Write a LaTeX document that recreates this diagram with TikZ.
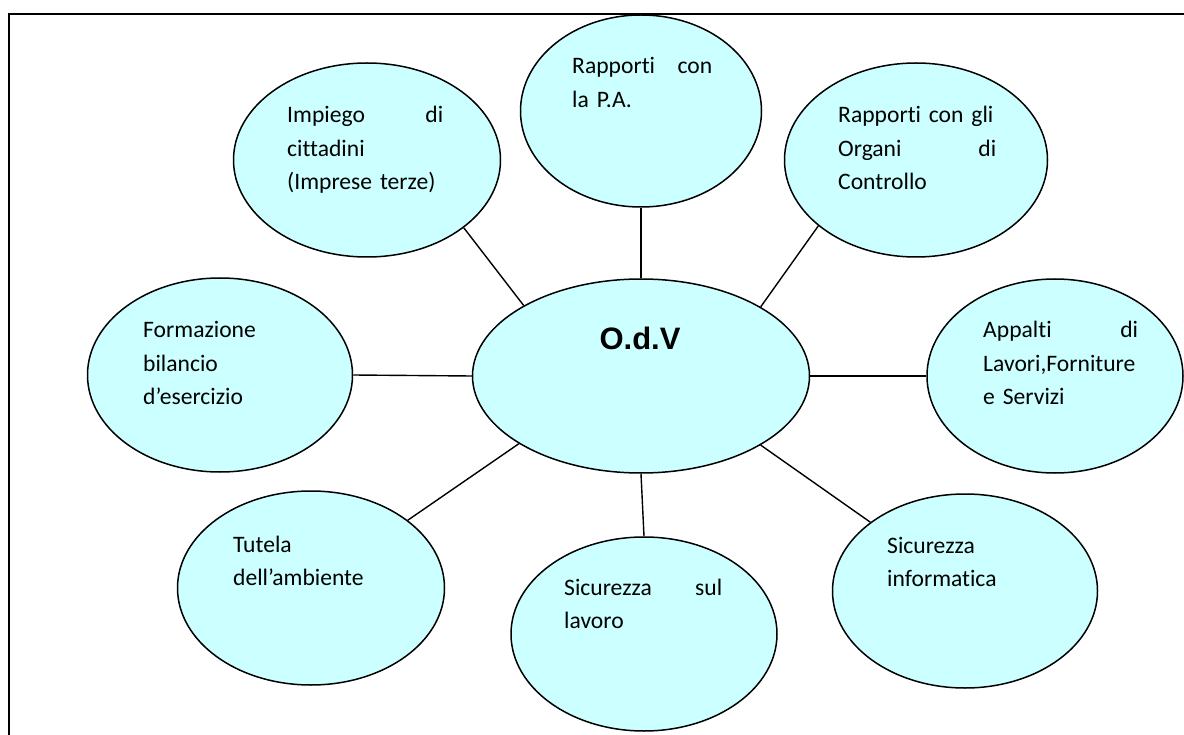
\documentclass[tikz,border=0pt]{standalone}
\usepackage{fontspec}
\setmainfont{Carlito}[Ligatures={NoCommon}]
\newfontfamily\titlefont{Liberation Sans}
\usetikzlibrary{shapes.geometric}
\definecolor{bubblefill}{RGB}{204,255,255}
\tikzset{
  bubble/.style={ellipse, draw=black, line width=1.5pt, fill=bubblefill, inner sep=0pt},
  bubbletext/.style={anchor=base west, inner sep=0pt, align=left,
    font=\fontsize{23.6}{33.4}\selectfont},
  spoke/.style={draw=black, line width=1.4pt},
}
\begin{document}
\begin{tikzpicture}[x=1pt, y=-1pt]
\useasboundingbox (0,0) rectangle (1184,735);
\clip (0,0) rectangle (1184,735);
\fill[white] (0,0) rectangle (1184,735);
% outer frame (runs off the right and bottom edges)
\draw[line width=2pt] (9,14) rectangle (1220,770);

% central bubble
\node[bubble, minimum width=337pt, minimum height=194pt] (odv) at (641,376) {};
\node[anchor=base, inner sep=0pt, font=\titlefont\bfseries\fontsize{31}{37}\selectfont] (odv-t) at (640,350) {O.d.V};

% surrounding bubbles
\node[bubble, minimum width=241pt, minimum height=192pt] (pa)   at (641,111) {};
\node[bubble, minimum width=267pt, minimum height=194pt] (imp)  at (367,160) {};
\node[bubble, minimum width=263pt, minimum height=194pt] (org)  at (916,160) {};
\node[bubble, minimum width=265pt, minimum height=194pt] (form) at (220,375) {};
\node[bubble, minimum width=256pt, minimum height=194pt] (app)  at (1055,376) {};
\node[bubble, minimum width=267pt, minimum height=194pt] (tut)  at (311,588) {};
\node[bubble, minimum width=266pt, minimum height=194pt] (lav)  at (644,634) {};
\node[bubble, minimum width=265pt, minimum height=194pt] (inf)  at (965,591) {};

% labels
\node[bubbletext, text width=140pt] (pa-t)   at (572,74)  {Rapporti\hfill con\\la P.A.};
\node[bubbletext, text width=156pt] (imp-t)  at (287,123) {Impiego\hfill di\\cittadini\\(Imprese terze)};
\node[bubbletext, text width=158pt] (org-t)  at (838,123) {Rapporti con gli\\Organi\hfill di\\Controllo};
\node[bubbletext, text width=160pt] (form-t) at (143,338) {Formazione\\bilancio\\d’esercizio};
\node[bubbletext, text width=155pt] (app-t)  at (983,338) {Appalti\hfill di\\Lavori,Forniture\\e Servizi};
\node[bubbletext, text width=160pt] (tut-t)  at (233,552) {Tutela\\dell’ambiente};
\node[bubbletext, text width=158pt] (lav-t)  at (564,595) {Sicurezza\hfill sul\\lavoro};
\node[bubbletext, text width=160pt] (inf-t)  at (887,553) {Sicurezza\\informatica};

% spokes
\draw[spoke] (odv.149.7) -- (imp.-35);
\draw[spoke] (odv.north) -- (pa.south);
\draw[spoke] (odv.30.4) -- (org.-146);
\draw[spoke] (odv.west) -- (form.east);
\draw[spoke] (odv.east) -- (app.west);
\draw[spoke] (odv.209) -- (tut.35);
\draw[spoke] (odv.south) -- (lav.north);
\draw[spoke] (odv.-30.8) -- (inf.144);
\end{tikzpicture}
\end{document}
